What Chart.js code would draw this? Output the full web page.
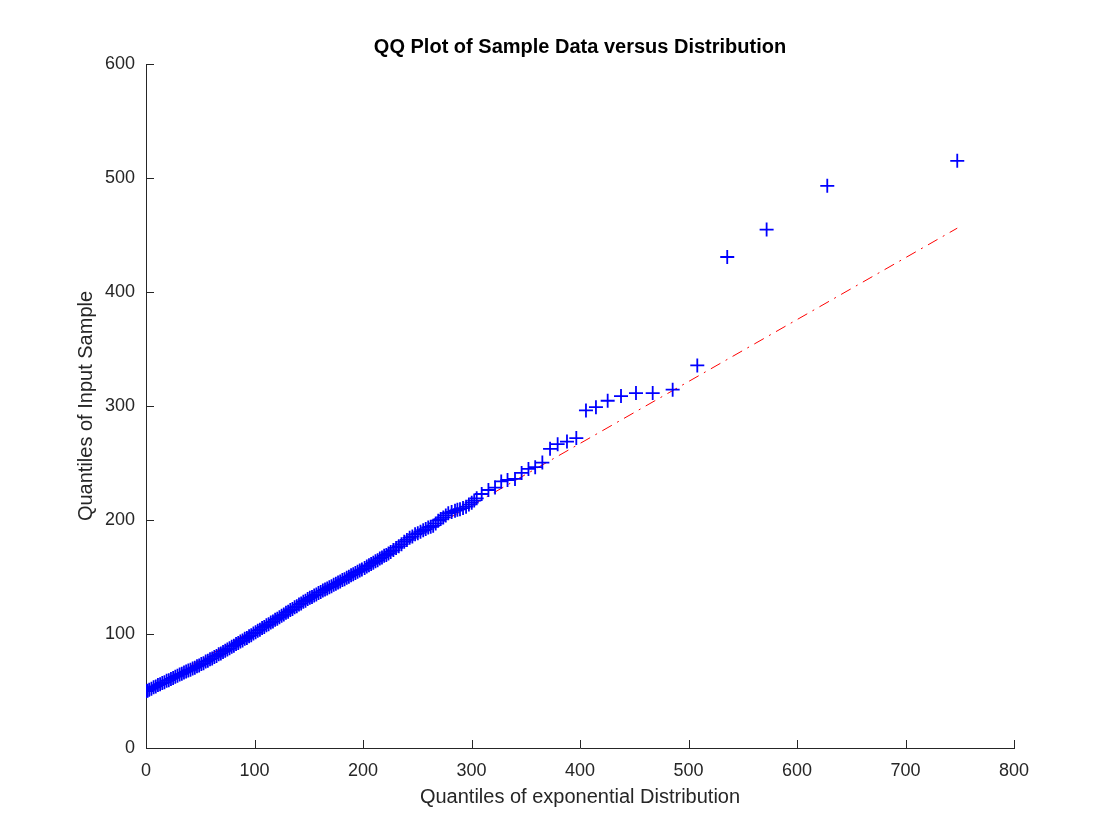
<!DOCTYPE html>
<html>
<head>
<meta charset="utf-8">
<title>QQ Plot</title>
<script src="https://cdn.jsdelivr.net/npm/chart.js@4.4.1/dist/chart.umd.min.js"></script>
<style>
  body { margin: 0; background: #fff; }
  #wrap { width: 1120px; height: 840px; }
</style>
</head>
<body>
<div id="wrap"><canvas id="chart"></canvas></div>
<script>
// quantiles of the exponential distribution (x) and sorted sample (y)
var quantilesX = [
  0.3, 1.5, 3, 5, 7, 9, 11, 13, 15, 17, 19, 21, 23, 25,
  27, 29, 31, 33, 35, 37, 39, 41, 43, 45, 47, 49,
  51, 53, 55, 57, 59, 61, 63, 65, 67, 69, 71, 73, 75,
  77, 79, 81, 83, 85, 87, 89, 91, 93, 95, 97, 99,
  101, 103, 105, 107, 109, 111, 113, 115, 117, 119, 121, 123, 125,
  127, 129, 131, 133, 135, 137, 139, 141, 143, 145, 147, 149,
  151, 153, 155, 157, 159, 161, 163, 165, 167, 169, 171, 173, 175,
  177, 179, 181, 183, 185, 187, 189, 191, 193, 195, 197, 199,
  201.5, 203.5, 205.5, 207.5, 209.5, 211.5, 213.5, 215.5, 217.5, 219.5, 221.5, 223.5,
  225.5, 228, 230.5, 233, 235.5, 238, 240.5, 243, 245.5, 248, 250.5, 253, 255.5,
  257.8, 260.1, 262.4, 264.7, 267, 269.3, 271.6, 274.0, 276.3, 278.6, 281.7, 284.8, 287, 289.4, 292.2, 295.0, 297.6, 300.2, 302.5, 304.8,
  309.4, 315.6, 321.7, 327.4, 333.2, 340.1, 346.2, 352.5, 358.7, 365.3, 372.4, 379.4, 388.0, 396.6,
  405.5, 414.7, 425.5, 437.8, 451.6, 467.0, 485.4, 508.1, 535.7, 572.0, 627.9, 747.7
];
var sampleY = [
  50.0, 50.3, 51.2, 52.0, 53.3, 54.0, 55.2, 55.9, 57.0, 57.6, 58.9, 59.5, 60.6, 61.5,
  62.6, 63.3, 64.5, 65.1, 66.2, 67.0, 68.0, 68.6, 69.8, 70.5, 71.7, 72.3,
  73.6, 74.4, 75.8, 76.6, 77.9, 78.6, 79.9, 80.8, 82.2, 83.0, 84.3, 85.2, 86.5,
  87.4, 88.9, 89.8, 91.2, 92.1, 93.5, 94.3, 95.8, 96.6, 98.1, 99.0, 100.5,
  101.5, 102.9, 103.8, 105.3, 106.2, 107.6, 108.6, 110.0, 110.9, 112.4, 113.3, 114.8, 116.0,
  117.0, 118.6, 119.5, 121.0, 121.9, 123.4, 124.3, 125.8, 126.7, 128.2, 129.1, 130.6,
  131.7, 132.5, 133.8, 134.6, 136.0, 136.8, 138.1, 139.0, 140.0, 141.1, 141.9, 143.2, 144.0,
  145.2, 146.0, 147.3, 148.1, 149.4, 150.3, 151.5, 152.4, 153.6, 154.5, 155.7, 156.5,
  157.8, 159.2, 160.2, 161.5, 162.5, 163.9, 164.8, 166.3, 167.2, 168.6, 169.4, 170.6,
  172.0, 173.6, 175.5, 177.0, 178.8, 180.9, 182.5, 184.4, 185.6, 187.4, 188.3, 189.6, 191.0,
  192.0, 193.5, 194.0, 195.0, 197.0, 199.4, 200.8, 202.3, 204.0, 205.9, 207.0, 208.2, 209.0, 209.5, 210.5, 211.7, 213.5, 215.2, 217.0, 219.0,
  222.8, 226.3, 228.4, 233.8, 235.1, 236.0, 241.3, 244.8, 246.3, 250.4, 262.4, 266.5, 268.8, 271.9,
  296.1, 299.0, 304.6, 308.7, 311.3, 311.3, 314.3, 335.6, 430.7, 454.8, 493.1, 515.1
];
// reference line end points
var refLineX = [0.3, 747.7];
var refLineY = [50, 456];

var xTicks = [0, 100, 200, 300, 400, 500, 600, 700, 800];
var yTicks = [0, 100, 200, 300, 400, 500, 600];

var axisColor = '#262626';

// MATLAB style ticks pointing into the plot
var innerTicks = {
    id: 'innerTicks',
    afterDraw: function (chart) {
        var ctx = chart.ctx;
        var xs = chart.scales.x, ys = chart.scales.y;
        ctx.save();
        ctx.strokeStyle = axisColor;
        ctx.lineWidth = 1;
        ctx.beginPath();
        xs.ticks.forEach(function (t) {
            var px = Math.round(xs.getPixelForValue(t.value)) + 0.5;
            ctx.moveTo(px, ys.bottom);
            ctx.lineTo(px, ys.bottom - 8);
        });
        ys.ticks.forEach(function (t) {
            var py = Math.round(ys.getPixelForValue(t.value)) + 0.5;
            ctx.moveTo(xs.left, py);
            ctx.lineTo(xs.left + 8, py);
        });
        ctx.stroke();
        ctx.restore();
    }
};

var points = quantilesX.map(function (x, i) { return {x: x, y: sampleY[i]}; });
var refLine = refLineX.map(function (x, i) { return {x: x, y: refLineY[i]}; });

var chart = new Chart(document.getElementById('chart'), {
    type: 'scatter',
    data: {
        datasets: [{
            data: points,
            showLine: false,
            pointStyle: 'cross',
            pointRadius: 7,
            pointBorderWidth: 1.8,
            borderColor: '#0000ff',
            backgroundColor: '#0000ff',
            order: 1
        }, {
            data: refLine,
            showLine: true,
            pointRadius: 0,
            borderColor: '#ff0000',
            borderWidth: 1,
            borderDash: [11, 6, 2, 6],
            order: 2
        }]
    },
    options: {
        responsive: true,
        maintainAspectRatio: false,
        animation: false,
        layout: { padding: { top: 0, right: 106, bottom: 0, left: 0 } },
        plugins: {
            legend: { display: false },
            tooltip: { enabled: false },
            title: {
                display: true,
                text: 'QQ Plot of Sample Data versus Distribution',
                color: '#000',
                fullSize: false,
                font: { family: 'Liberation Sans, Arial, sans-serif', size: 20, weight: 'bold' },
                padding: { top: 35, bottom: 5 }
            }
        },
        scales: {
            x: {
                type: 'linear',
                min: 0,
                max: 800,
                afterBuildTicks: function (s) { s.ticks = xTicks.map(function (v) { return {value: v}; }); },
                afterFit: function (s) { s.height = 92; },
                grid: { display: false, drawTicks: false },
                border: { display: true, color: axisColor, width: 1 },
                ticks: {
                    color: axisColor,
                    padding: 12,
                    maxRotation: 0,
                    font: { family: 'Liberation Sans, Arial, sans-serif', size: 18 }
                },
                title: {
                    display: true,
                    text: 'Quantiles of exponential Distribution',
                    color: axisColor,
                    padding: 31,
                    font: { family: 'Liberation Sans, Arial, sans-serif', size: 20 }
                }
            },
            y: {
                type: 'linear',
                min: 0,
                max: 600,
                afterBuildTicks: function (s) { s.ticks = yTicks.map(function (v) { return {value: v}; }); },
                afterFit: function (s) { s.width = 146; },
                grid: { display: false, drawTicks: false },
                border: { display: true, color: axisColor, width: 1 },
                ticks: {
                    color: axisColor,
                    padding: 11,
                    font: { family: 'Liberation Sans, Arial, sans-serif', size: 18 }
                },
                title: {
                    display: true,
                    text: 'Quantiles of Input Sample',
                    color: axisColor,
                    padding: 74,
                    font: { family: 'Liberation Sans, Arial, sans-serif', size: 20 }
                }
            }
        }
    },
    plugins: [innerTicks]
});
</script>
</body>
</html>
